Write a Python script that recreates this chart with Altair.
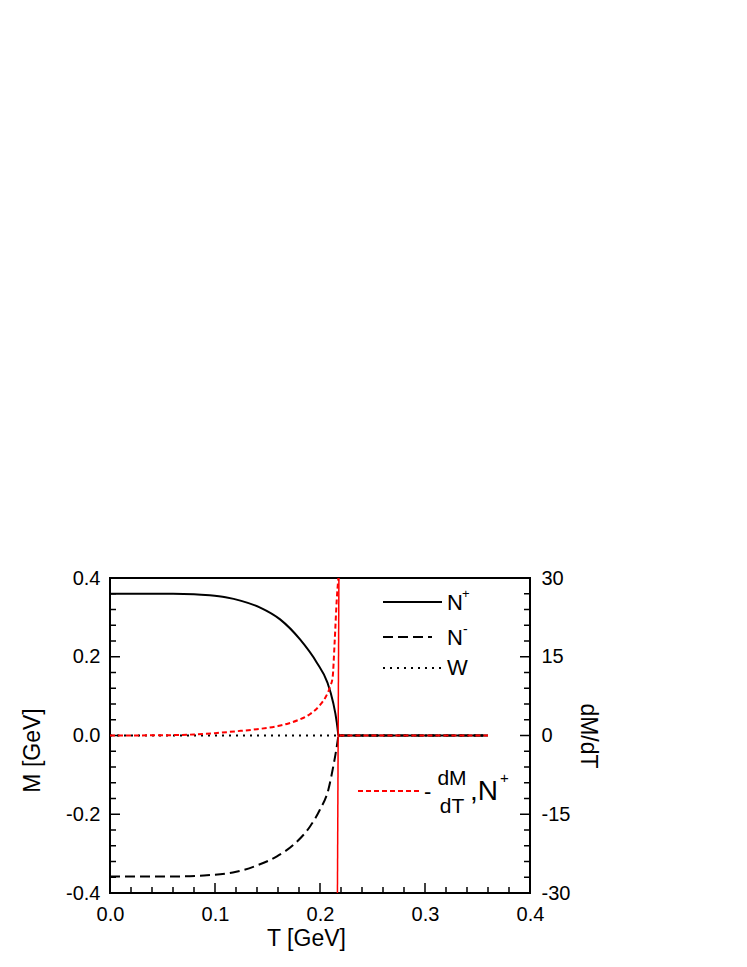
import altair as alt
import pandas as pd

# ---------------- data ----------------
# N+ branch (solid black), left axis M [GeV]
T_plus = [0.0, 0.04, 0.06, 0.08, 0.095, 0.11, 0.125, 0.143, 0.162, 0.181, 0.197, 0.207, 0.2125, 0.216, 0.2175]
M_plus = [0.36, 0.36, 0.36, 0.359, 0.356, 0.351, 0.342, 0.325, 0.295, 0.244, 0.185, 0.135, 0.084, 0.033, 0.0]
# N- branch (dashed black)
T_minus = [0.0, 0.04, 0.06, 0.0857, 0.117, 0.14, 0.159, 0.175, 0.1905, 0.2, 0.208, 0.2126, 0.2155, 0.2175]
M_minus = [-0.358, -0.358, -0.358, -0.356, -0.348, -0.330, -0.307, -0.277, -0.231, -0.188, -0.137, -0.079, -0.036, 0.0]
# high-temperature branch (M = 0)
T_tail = [0.2175, 0.36]
M_tail = [0.0, 0.0]
# W (dotted black)
T_w = [0.0, 0.36]
M_w = [0.0, 0.0]
# -dM/dT for N+ (red dashed), right axis
T_deriv = [0.0, 0.05, 0.08, 0.1, 0.12, 0.14, 0.16, 0.17, 0.18, 0.19, 0.2, 0.205, 0.21, 0.212, 0.214, 0.216, 0.2175]
D_deriv = [0.0, 0.05, 0.2, 0.45, 0.8, 1.2, 1.8, 2.3, 3.0, 4.0, 5.8, 7.2, 9.5, 11.0, 18.0, 26.0, 30.0]
T_deriv_tail = [0.2185, 0.36]
D_deriv_tail = [0.0, 0.0]
# red solid spike
T_spike = [0.2166, 0.2180]
D_spike = [-30.0, 30.0]

# tick values
x_major = [0.0, 0.1, 0.2, 0.3, 0.4]
x_minor = [0.02, 0.04, 0.06, 0.08, 0.12, 0.14, 0.16, 0.18, 0.22, 0.24, 0.26, 0.28, 0.32, 0.34, 0.36, 0.38]
m_major = [-0.4, -0.2, 0.0, 0.2, 0.4]
m_minor = [-0.36, -0.32, -0.28, -0.24, -0.16, -0.12, -0.08, -0.04,
           0.04, 0.08, 0.12, 0.16, 0.24, 0.28, 0.32, 0.36]
r_major = [-30, -15, 0, 15, 30]
r_minor = [-27, -24, -21, -18, -12, -9, -6, -3, 3, 6, 9, 12, 18, 21, 24, 27]

# ---------------- chart ----------------
W, H = 420, 315
FONT = "Liberation Sans"

xscale = alt.Scale(domain=[0, 0.4], nice=False, zero=False)
lscale = alt.Scale(domain=[-0.4, 0.4], nice=False, zero=False)
rscale = alt.Scale(domain=[-30, 30], nice=False, zero=False)

xaxis = alt.Axis(title="T [GeV]", values=x_major, labelExpr="format(datum.value, '.1f')",
                 labelPadding=11, titlePadding=3, labelFlush=False, titleX=196)
laxis = alt.Axis(title="M [GeV]", values=m_major,
                 labelExpr="replace(format(datum.value, '.1f'), '\u2212', '-')",
                 labelPadding=10, titlePadding=21, labelFlush=False, titleY=172)
raxis = alt.Axis(title="dM/dT", values=r_major, orient="right",
                 labelExpr="replace(format(datum.value, 'd'), '\u2212', '-')",
                 labelPadding=11, titlePadding=6, labelFlush=False)


def xenc(field):
    return alt.X(field, type="quantitative", scale=xscale, axis=xaxis)


def lenc(field):
    return alt.Y(field, type="quantitative", scale=lscale, axis=laxis)


def renc(field):
    return alt.Y(field, type="quantitative", scale=rscale, axis=raxis)


def line(T, V, enc_y, **style):
    df = pd.DataFrame({"T": T, "V": V})
    return alt.Chart(df).mark_line(clip=True, **style).encode(x=xenc("T"), y=enc_y("V"))


n_plus = line(T_plus, M_plus, lenc, color="black", strokeWidth=2, interpolate="monotone")
n_plus_tail = line(T_tail, M_tail, lenc, color="black", strokeWidth=2)
n_minus = line(T_minus, M_minus, lenc, color="black", strokeWidth=2, strokeDash=[10, 5],
               interpolate="monotone")
n_minus_tail = line(T_tail, M_tail, lenc, color="black", strokeWidth=2, strokeDash=[10, 5])
w_line = line(T_w, M_w, lenc, color="black", strokeWidth=2, strokeDash=[2, 5])

MAJ, MIN = 10, 6

left_major = alt.Chart(pd.DataFrame({"v": m_major})).mark_rule(color="black", strokeWidth=1.5).encode(
    y=lenc("v"), x=alt.value(0), x2=alt.value(MAJ))
left_minor = alt.Chart(pd.DataFrame({"v": m_minor})).mark_rule(color="black", strokeWidth=1.5).encode(
    y=lenc("v"), x=alt.value(0), x2=alt.value(MIN))
bottom_major = alt.Chart(pd.DataFrame({"v": x_major})).mark_rule(color="black", strokeWidth=1.5).encode(
    x=xenc("v"), y=alt.value(H), y2=alt.value(H - MAJ))
bottom_minor = alt.Chart(pd.DataFrame({"v": x_minor})).mark_rule(color="black", strokeWidth=1.5).encode(
    x=xenc("v"), y=alt.value(H), y2=alt.value(H - MIN))

left_group = alt.layer(n_plus, n_plus_tail, n_minus, n_minus_tail, w_line,
                       left_major, left_minor, bottom_major, bottom_minor)

red_dash = line(T_deriv, D_deriv, renc, color="#ff0000", strokeWidth=2, strokeDash=[5, 3],
                interpolate="monotone")
red_dash_tail = line(T_deriv_tail, D_deriv_tail, renc, color="#ff0000", strokeWidth=2, strokeDash=[5, 3])
red_spike = line(T_spike, D_spike, renc, color="#ff0000", strokeWidth=1.5)

right_major = alt.Chart(pd.DataFrame({"v": r_major})).mark_rule(color="black", strokeWidth=1.5).encode(
    y=renc("v"), x=alt.value(W - MAJ), x2=alt.value(W))
right_minor = alt.Chart(pd.DataFrame({"v": r_minor})).mark_rule(color="black", strokeWidth=1.5).encode(
    y=renc("v"), x=alt.value(W - MIN), x2=alt.value(W))

right_group = alt.layer(red_dash, red_dash_tail, red_spike, right_major, right_minor)

# ---------------- legend ----------------
one = pd.DataFrame({"a": [0]})


def leg_rule(x1, x2, y, color, dash=None):
    kw = {"color": color, "strokeWidth": 2}
    if dash is not None:
        kw["strokeDash"] = dash
    return alt.Chart(one).mark_rule(**kw).encode(x=alt.value(x1), x2=alt.value(x2), y=alt.value(y))


def leg_text(txt, x, y, size, align="left", baseline="alphabetic"):
    return alt.Chart(one).mark_text(text=txt, font=FONT, fontSize=size, color="black",
                                    align=align, baseline=baseline).encode(
        x=alt.value(x), y=alt.value(y))


legend = [
    leg_rule(273, 332, 24, "black"),
    leg_text("N", 337, 32, 22),
    leg_text("+", 352, 20, 13),
    leg_rule(273, 322, 59, "black", [10, 5]),
    leg_text("N", 337, 67, 22),
    leg_text("-", 353, 56, 14),
    leg_rule(273, 331, 90, "black", [2, 5]),
    leg_text("W", 337, 97, 22),
    leg_rule(248, 310, 213, "#ff0000", [5, 3]),
    leg_text("-", 314, 221, 22),
    leg_text("dM", 342, 207, 21, align="center"),
    leg_text("dT", 342, 235, 21, align="center"),
    leg_text(",N", 360, 222, 28),
    leg_text("+", 390, 205, 15),
]

chart = alt.layer(left_group, right_group, *legend).resolve_scale(y="independent").properties(
    width=W, height=H,
    padding={"left": 102, "top": 570, "right": 100, "bottom": 60},
    autosize=alt.AutoSizeParams(type="none"),
).configure_view(stroke="black", strokeWidth=2).configure_axis(
    labelFont=FONT, labelFontSize=20, labelColor="black",
    titleFont=FONT, titleFontSize=23, titleFontWeight="normal", titleColor="black",
    grid=False, ticks=False, domain=False,
)

chart.save("out.html", embed_options={"renderer": "svg", "actions": False})
